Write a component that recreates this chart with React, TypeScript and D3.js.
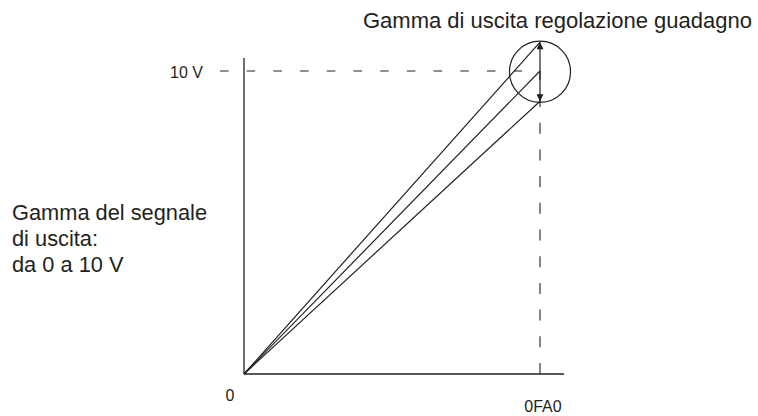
import React from 'react';
import * as d3 from 'd3';

// x is the DAC code (0FA0 = 4000), y is output voltage
const xTicks = [{ value: 0, label: '0' }, { value: 4000, label: '0FA0' }];
const yRefValue = 10;
const yRefLabel = '10 V';
const gainEnds = [9.0, 10, 10.95];
const title = 'Gamma di uscita regolazione guadagno';
const sideLines = ['Gamma del segnale', 'di uscita:', 'da 0 a 10 V'];

const W = 758;
const H = 416;
const ink = '#231f20';

const App: React.FC = () => {
  const x = d3.scaleLinear().domain([0, 4000]).range([244, 540]);
  const y = d3.scaleLinear().domain([0, 10]).range([374, 71]);
  const xMax = x.invert(564);
  const yMax = y.invert(58);

  const line = d3
    .line<[number, number]>()
    .x((d) => x(d[0]))
    .y((d) => y(d[1]));

  const xEnd = 4000;
  const top = d3.max(gainEnds) as number;
  const bottom = d3.min(gainEnds) as number;
  const cx = x(xEnd);
  const cy = (y(top) + y(bottom)) / 2;
  const r = (y(bottom) - y(top)) / 2 + 1;

  return (
    <svg
      width={W}
      height={H}
      style={{ position: 'absolute', left: 0, top: 0, display: 'block' }}
      fontFamily="'Liberation Sans', Arial, sans-serif"
    >
      <defs>
        <marker
          id="ah"
          viewBox="0 0 10 10"
          refX="10"
          refY="5"
          markerWidth="10"
          markerHeight="7"
          markerUnits="userSpaceOnUse"
          orient="auto-start-reverse"
        >
          <path d="M0,0 L10,5 L0,10 Z" fill={ink} />
        </marker>
      </defs>
      <rect width={W} height={H} fill="#fff" />

      {/* dashed guides */}
      <line
        x1={220}
        x2={x(xEnd)}
        y1={y(yRefValue)}
        y2={y(yRefValue)}
        stroke={ink}
        strokeWidth={1.1}
        strokeDasharray="8.5 18.2"
      />
      <line
        x1={x(xEnd)}
        x2={x(xEnd)}
        y1={y(0)}
        y2={y(yRefValue)}
        stroke={ink}
        strokeWidth={1.1}
        strokeDasharray="11 15.7"
      />

      {/* axes */}
      <line x1={x(0)} x2={x(0)} y1={y(0)} y2={y(yMax)} stroke={ink} strokeWidth={1.3} />
      <line x1={x(0)} x2={x(xMax)} y1={y(0)} y2={y(0)} stroke={ink} strokeWidth={1.3} />

      {/* gain lines */}
      {gainEnds.map((v, i) => (
        <path
          key={i}
          d={line([[0, 0], [xEnd, v]]) as string}
          fill="none"
          stroke={ink}
          strokeWidth={1.2}
        />
      ))}

      {/* range arrow and circle */}
      <line
        x1={cx}
        x2={cx}
        y1={y(top)}
        y2={y(bottom)}
        stroke={ink}
        strokeWidth={1.2}
        markerStart="url(#ah)"
        markerEnd="url(#ah)"
      />
      <circle cx={cx} cy={cy} r={r} fill="none" stroke={ink} strokeWidth={1.2} />

      {/* labels */}
      <text x={203} y={78} fontSize={16} textAnchor="end" fill={ink}>
        {yRefLabel}
      </text>
      <text x={x(xTicks[0].value) - 14} y={401} fontSize={16} textAnchor="middle" fill={ink}>
        {xTicks[0].label}
      </text>
      <text x={x(xTicks[1].value) + 3} y={412} fontSize={16} textAnchor="middle" fill={ink}>
        {xTicks[1].label}
      </text>
      <text x={363} y={28} fontSize={22} fill={ink}>
        {title}
      </text>
      {sideLines.map((s, i) => (
        <text key={s} x={12} y={220 + i * 26} fontSize={21.8} fill={ink}>
          {s}
        </text>
      ))}
    </svg>
  );
};

export default App;
